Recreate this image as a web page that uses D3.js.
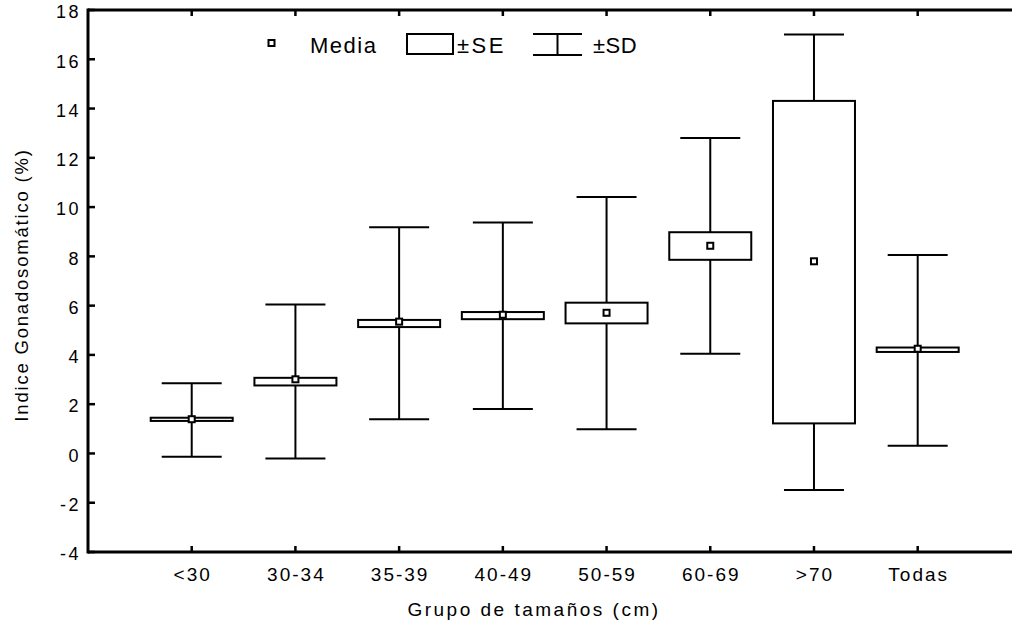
<!DOCTYPE html>
<html>
<head>
<meta charset="utf-8">
<script src="https://cdn.jsdelivr.net/npm/d3@7"></script>
<style>
  html, body { margin: 0; padding: 0; background: #fff; }
  svg { display: block; font-family: Arial, "Liberation Sans", sans-serif; }
</style>
</head>
<body>
<svg id="chart" width="1012" height="628"></svg>
<script>
const categories = ["<30", "30-34", "35-39", "40-49", "50-59", "60-69", ">70", "Todas"];
const means  = [1.39, 3.01, 5.35, 5.63, 5.71, 8.43, 7.80, 4.25];
const seLow  = [1.32, 2.76, 5.13, 5.45, 5.28, 7.86, 1.22, 4.12];
const seHigh = [1.45, 3.07, 5.42, 5.74, 6.12, 8.98, 14.31, 4.30];
const sdLow  = [-0.13, -0.20, 1.39, 1.80, 0.98, 4.05, -1.48, 0.31];
const sdHigh = [2.85, 6.05, 9.18, 9.37, 10.41, 12.80, 17.01, 8.06];
const yTicks = [-4, -2, 0, 2, 4, 6, 8, 10, 12, 14, 16, 18];
const legendLabels = ["Media", "±SE", "±SD"];
const xTitle = "Grupo de tamaños (cm)";
const yTitle = "Indice Gonadosomático (%)";

(function () {
const svg = d3.select("#chart");
const pLeft = 88, pTop = 10, pBottom = 552, pRight = 1021.4;

const x = d3.scalePoint().domain(categories).range([pLeft, pRight]).padding(1);
const y = d3.scaleLinear().domain([-4, 18]).range([pBottom, pTop]);

const data = categories.map((c, i) => ({
  c, mean: means[i], seL: seLow[i], seH: seHigh[i], sdL: sdLow[i], sdH: sdHigh[i]
}));

const boxW = 82, capW = 60;

const g = svg.append("g").attr("stroke", "#000").attr("stroke-width", 2).attr("fill", "none");
g.selectAll(".stem").data(data).join("line").attr("class", "stem")
  .attr("x1", d => x(d.c)).attr("x2", d => x(d.c))
  .attr("y1", d => y(d.sdL)).attr("y2", d => y(d.sdH));
g.selectAll(".capH").data(data).join("line").attr("class", "capH")
  .attr("x1", d => x(d.c) - capW / 2).attr("x2", d => x(d.c) + capW / 2)
  .attr("y1", d => y(d.sdH)).attr("y2", d => y(d.sdH));
g.selectAll(".capL").data(data).join("line").attr("class", "capL")
  .attr("x1", d => x(d.c) - capW / 2).attr("x2", d => x(d.c) + capW / 2)
  .attr("y1", d => y(d.sdL)).attr("y2", d => y(d.sdL));
g.selectAll(".box").data(data).join("rect").attr("class", "box")
  .attr("x", d => x(d.c) - boxW / 2).attr("width", boxW)
  .attr("y", d => y(d.seH)).attr("height", d => y(d.seL) - y(d.seH))
  .attr("fill", "#fff");
g.selectAll(".mean").data(data).join("rect").attr("class", "mean")
  .attr("x", d => x(d.c) - 3).attr("y", d => y(d.mean) - 3)
  .attr("width", 6).attr("height", 6).attr("fill", "#fff");

const fr = svg.append("g").attr("stroke", "#000").attr("stroke-width", 3).attr("fill", "none");
fr.append("line").attr("x1", pLeft).attr("x2", pLeft).attr("y1", pTop - 1.5).attr("y2", pBottom + 1.5);
fr.append("line").attr("x1", pLeft).attr("x2", 1012).attr("y1", pTop).attr("y2", pTop);
fr.append("line").attr("x1", pLeft).attr("x2", 1012).attr("y1", pBottom).attr("y2", pBottom);

svg.append("g").selectAll("line").data(yTicks).join("line")
  .attr("x1", pLeft).attr("x2", pLeft + 7).attr("y1", d => y(d)).attr("y2", d => y(d))
  .attr("stroke", "#000").attr("stroke-width", 2.5);
svg.append("g").selectAll("text").data(yTicks).join("text")
  .attr("x", 81).attr("y", d => y(d) + 2).attr("dy", "0.35em")
  .attr("text-anchor", "end").attr("font-size", 18).attr("letter-spacing", 2.5)
  .text(d => d);

svg.append("g").selectAll("line").data(categories).join("line")
  .attr("x1", d => x(d)).attr("x2", d => x(d)).attr("y1", pBottom).attr("y2", pBottom - 6)
  .attr("stroke", "#000").attr("stroke-width", 2.5);
svg.append("g").selectAll("line").data(categories).join("line")
  .attr("x1", d => x(d)).attr("x2", d => x(d)).attr("y1", pTop).attr("y2", pTop + 6)
  .attr("stroke", "#000").attr("stroke-width", 2.5);
svg.append("g").selectAll("text").data(categories).join("text")
  .attr("x", d => x(d) + 1).attr("y", 581)
  .attr("text-anchor", "middle").attr("font-size", 19).attr("letter-spacing", 2)
  .text(d => d);

svg.append("text").attr("x", 534).attr("y", 616).attr("text-anchor", "middle")
  .attr("font-size", 19).attr("letter-spacing", 2.5).text(xTitle);
svg.append("text").attr("transform", "translate(28,285) rotate(-90)").attr("text-anchor", "middle")
  .attr("font-size", 18.5).attr("letter-spacing", 1.8).text(yTitle);

const lg = svg.append("g");
lg.append("rect").attr("x", 268.5).attr("y", 40).attr("width", 6).attr("height", 6)
  .attr("fill", "#fff").attr("stroke", "#000").attr("stroke-width", 2);
lg.append("rect").attr("x", 407).attr("y", 34).attr("width", 46).attr("height", 20)
  .attr("fill", "#fff").attr("stroke", "#000").attr("stroke-width", 2);
lg.append("line").attr("x1", 533).attr("x2", 582).attr("y1", 34).attr("y2", 34).attr("stroke", "#000").attr("stroke-width", 2);
lg.append("line").attr("x1", 533).attr("x2", 582).attr("y1", 55).attr("y2", 55).attr("stroke", "#000").attr("stroke-width", 2);
lg.append("line").attr("x1", 557.5).attr("x2", 557.5).attr("y1", 34).attr("y2", 55).attr("stroke", "#000").attr("stroke-width", 2);
lg.selectAll("text").data(legendLabels).join("text")
  .attr("x", (d, i) => [310, 457, 593][i]).attr("y", 53)
  .attr("font-size", 22).attr("letter-spacing", (d, i) => [1.5, 2.5, 0.5][i])
  .text(d => d);
})();
</script>
</body>
</html>
